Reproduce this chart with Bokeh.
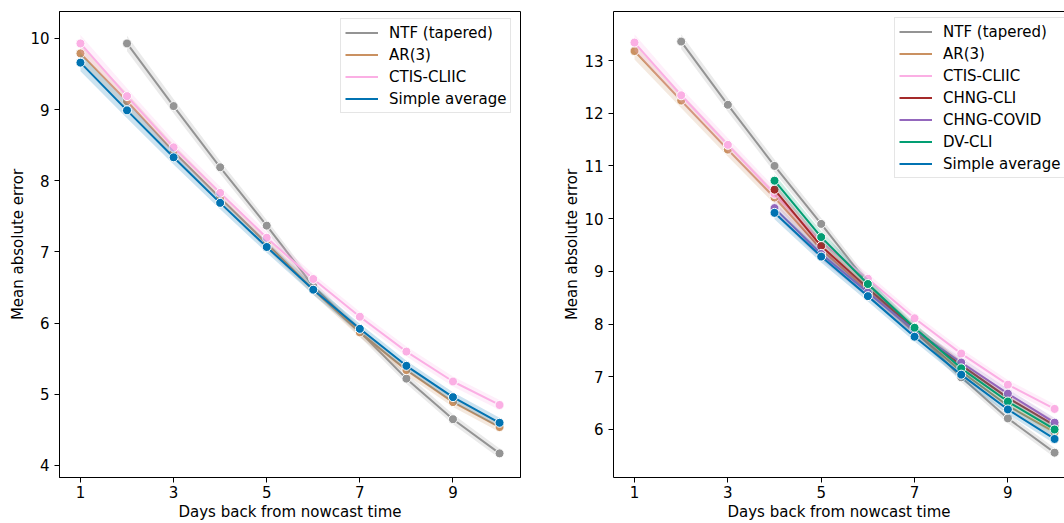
import math
from bokeh.plotting import figure
from bokeh.layouts import row
from bokeh.models import Range1d, Legend, LegendItem, LinearAxis, FixedTicker
from bokeh.embed import file_html
from bokeh.resources import INLINE

days = [1, 2, 3, 4, 5, 6, 7, 8, 9, 10]
NaN = float("nan")

# ---- left panel data ----
left_names = ["NTF (tapered)", "AR(3)", "CTIS-CLIIC", "Simple average"]
left_ntf = [NaN, 9.93, 9.05, 8.19, 7.37, 6.52, 5.88, 5.22, 4.65, 4.17]
left_ar = [9.79, 9.12, 8.41, 7.76, 7.12, 6.47, 5.87, 5.34, 4.89, 4.54]
left_ctis = [9.93, 9.19, 8.47, 7.83, 7.20, 6.62, 6.09, 5.60, 5.18, 4.85]
left_avg = [9.66, 8.99, 8.33, 7.69, 7.07, 6.47, 5.92, 5.40, 4.96, 4.60]
left_ci = [0.12, 0.11, 0.10, 0.09, 0.08, 0.07, 0.07, 0.07, 0.07, 0.07]

# ---- right panel data ----
right_names = ["NTF (tapered)", "AR(3)", "CTIS-CLIIC", "CHNG-CLI", "CHNG-COVID", "DV-CLI", "Simple average"]
right_ntf = [NaN, 13.36, 12.16, 11.00, 9.90, 8.77, 7.88, 6.99, 6.21, 5.56]
right_ar = [13.18, 12.24, 11.31, 10.40, 9.42, 8.63, 7.86, 7.10, 6.45, 5.95]
right_ctis = [13.34, 12.34, 11.40, 10.47, 9.56, 8.86, 8.11, 7.44, 6.85, 6.39]
right_chng_cli = [NaN, NaN, NaN, 10.55, 9.48, 8.68, 7.90, 7.22, 6.60, 6.08]
right_chng_covid = [NaN, NaN, NaN, 10.20, 9.33, 8.60, 7.88, 7.27, 6.68, 6.13]
right_dv_cli = [NaN, NaN, NaN, 10.72, 9.65, 8.76, 7.93, 7.16, 6.53, 6.00]
right_avg = [NaN, NaN, NaN, 10.11, 9.28, 8.53, 7.76, 7.04, 6.38, 5.82]
right_ci = [0.16, 0.14, 0.13, 0.12, 0.11, 0.10, 0.09, 0.09, 0.09, 0.09]

x_ticks = [1, 3, 5, 7, 9]
left_y_ticks = [4, 5, 6, 7, 8, 9, 10]
right_y_ticks = [6, 7, 8, 9, 10, 11, 12, 13]

colors = {
    "NTF (tapered)": "#949494",
    "AR(3)": "#ca9161",
    "CTIS-CLIIC": "#fbafe4",
    "CHNG-CLI": "#a52a2a",
    "CHNG-COVID": "#9467bd",
    "DV-CLI": "#029e73",
    "Simple average": "#0173b2",
}

FONT = "DejaVu Sans"
FS = "15px"


def style_axes(p, yticks):
    for ax in (p.xaxis[0], p.yaxis[0]):
        ax.axis_line_color = "black"
        ax.axis_line_width = 1
        ax.major_tick_line_color = "black"
        ax.major_tick_out = 5
        ax.major_tick_in = 0
        ax.minor_tick_line_color = None
        ax.major_label_text_font = FONT
        ax.major_label_text_font_size = FS
        ax.major_label_text_color = "black"
        ax.axis_label_text_font = FONT
        ax.axis_label_text_font_size = FS
        ax.axis_label_text_font_style = "normal"
        ax.axis_label_text_color = "black"
    p.xaxis[0].ticker = FixedTicker(ticks=x_ticks)
    p.yaxis[0].ticker = FixedTicker(ticks=yticks)
    p.xaxis[0].major_label_standoff = 3
    p.xaxis[0].axis_label_standoff = 2
    p.yaxis[0].major_label_standoff = 5
    p.yaxis[0].axis_label_standoff = 0
    p.xaxis[0].axis_label = "Days back from nowcast time"
    p.yaxis[0].axis_label = "Mean absolute error"
    p.xgrid.grid_line_color = None
    p.ygrid.grid_line_color = None


def draw_series(p, name, vals, ci):
    xs = [d for d, v in zip(days, vals) if not math.isnan(v)]
    ys = [v for v in vals if not math.isnan(v)]
    cs = [c for c, v in zip(ci, vals) if not math.isnan(v)]
    col = colors[name]
    p.varea(x=xs, y1=[y - c for y, c in zip(ys, cs)], y2=[y + c for y, c in zip(ys, cs)],
            fill_color=col, fill_alpha=0.2)
    r = p.line(xs, ys, line_color=col, line_width=2)
    p.scatter(xs, ys, marker="circle", size=9, fill_color=col, line_color="white", line_width=1)
    return r


def make_legend(p, items, loc):
    leg = Legend(items=items, location=loc)
    leg.label_text_font = FONT
    leg.label_text_font_size = FS
    leg.label_text_color = "black"
    leg.glyph_width = 33
    leg.glyph_height = 19
    leg.label_height = 19
    leg.label_standoff = 11
    leg.spacing = 3
    leg.padding = 4
    leg.margin = 0
    leg.border_line_color = "#cccccc"
    leg.border_line_width = 1
    leg.background_fill_alpha = 0.8
    p.add_layout(leg)


# ---- left figure ----
p1 = figure(frame_width=461, frame_height=466, x_range=Range1d(0.55, 10.45),
            y_range=Range1d(3.831, 10.379), output_backend="svg", toolbar_location=None,
            min_border_left=59, min_border_right=10, min_border_top=11, min_border_bottom=46)
p1.outline_line_color = "black"
p1.outline_line_width = 1
style_axes(p1, left_y_ticks)
left_data = [left_ntf, left_ar, left_ctis, left_avg]
items1 = []
for name, vals in zip(left_names, left_data):
    r = draw_series(p1, name, vals, left_ci)
    items1.append(LegendItem(label=name, renderers=[r]))
make_legend(p1, items1, (281, 364))

# ---- right figure ----
p2 = figure(frame_width=451, frame_height=466, x_range=Range1d(0.55, 10.213),
            y_range=Range1d(5.089, 13.93), output_backend="svg", toolbar_location=None,
            min_border_left=83, min_border_right=0, min_border_top=11, min_border_bottom=46)
p2.outline_line_color = None
style_axes(p2, right_y_ticks)
top_axis = LinearAxis(ticker=FixedTicker(ticks=[]), axis_line_color="black", axis_line_width=1,
                      major_tick_line_color=None, minor_tick_line_color=None,
                      major_label_text_font_size="0px")
p2.add_layout(top_axis, "above")
right_data = [right_ntf, right_ar, right_ctis, right_chng_cli, right_chng_covid, right_dv_cli, right_avg]
items2 = []
for name, vals in zip(right_names, right_data):
    r = draw_series(p2, name, vals, right_ci)
    items2.append(LegendItem(label=name, renderers=[r]))
make_legend(p2, items2, (281, 299))

layout = row(p1, p2, spacing=0)
open("out.html", "w").write(file_html(layout, INLINE))
